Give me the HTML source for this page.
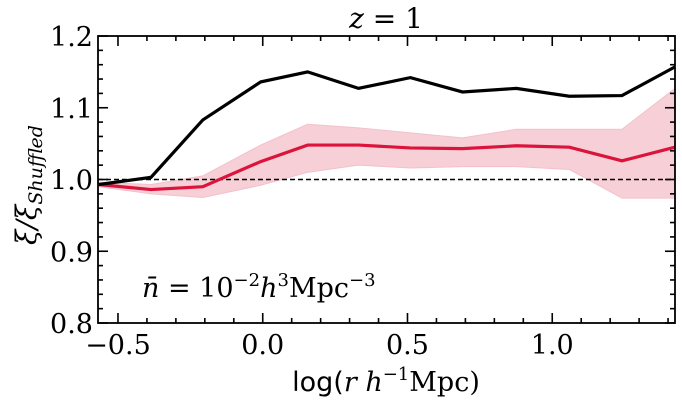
<!DOCTYPE html>
<html><head><meta charset="utf-8"><style>
body{margin:0;background:#fff;}
svg text{font-family:"DejaVu Serif","Liberation Serif",serif;fill:#000;}
</style></head><body>
<svg id="c" width="682" height="409" xmlns="http://www.w3.org/2000/svg">
<g id="plotg"></g>
<g id="tickg" fill="#000"></g>
<rect x="98" y="36" width="577" height="287" fill="none" stroke="#000" stroke-width="1.8"/>
<g id="labels"></g>
<text x="386" y="28" text-anchor="middle" font-size="28"><tspan font-style="italic">z</tspan> = 1</text>
<text x="142" y="297" font-size="27"><tspan font-style="italic">n̄</tspan> = 10<tspan font-size="18" dy="-11">−2</tspan><tspan dy="11" font-style="italic">h</tspan><tspan font-size="18" dy="-11">3</tspan><tspan dy="11">Mpc</tspan><tspan font-size="18" dy="-11">−3</tspan></text>
<text x="386" y="391" text-anchor="middle" font-size="27"><tspan font-family="DejaVu Sans, sans-serif">log(</tspan><tspan font-style="italic">r h</tspan><tspan font-size="18" dy="-11">−1</tspan><tspan dy="11">Mpc)</tspan></text>
<text transform="translate(36,185) rotate(-90)" text-anchor="middle" font-size="28" font-style="italic" font-family="DejaVu Sans, sans-serif">ξ/ξ<tspan font-size="19" dy="6">Shuffled</tspan></text>
</svg>
<script>
const logR=[-0.566,-0.386,-0.207,-0.007,0.155,0.331,0.510,0.690,0.876,1.059,1.241,1.424];
const blackVals=[0.993,1.003,1.083,1.136,1.150,1.127,1.142,1.122,1.127,1.116,1.117,1.157];
const redVals=[0.993,0.986,0.990,1.025,1.048,1.048,1.044,1.043,1.047,1.045,1.026,1.045];
const bandUpper=[0.996,0.993,1.005,1.048,1.077,1.072,1.065,1.058,1.070,1.070,1.070,1.127];
const bandLower=[0.990,0.980,0.975,0.992,1.010,1.020,1.016,1.018,1.018,1.014,0.974,0.974];
const xTicks=[-0.5,0.0,0.5,1.0];
const xTickLabels=["\u22120.5","0.0","0.5","1.0"];
const yTicks=[0.8,0.9,1.0,1.1,1.2];
const yTickLabels=["0.8","0.9","1.0","1.1","1.2"];

const L=98,R=675,T=36,B=323,xmin=-0.569,xmax=1.424,ymin=0.8,ymax=1.2;
const X=v=>L+(v-xmin)/(xmax-xmin)*(R-L);
const Y=v=>B-(v-ymin)/(ymax-ymin)*(B-T);
const NS='http://www.w3.org/2000/svg';
const pg=document.getElementById('plotg');
const lg=document.getElementById('labels');
const tg=document.getElementById('tickg');
function mk(tag,attrs,parent){const e=document.createElementNS(NS,tag);for(const k in attrs)e.setAttribute(k,attrs[k]);parent.appendChild(e);return e;}

let bp=logR.map((x,i)=>X(x)+','+Y(bandUpper[i])).join(' ')+' '+logR.map((x,i)=>X(x)+','+Y(bandLower[i])).reverse().join(' ');
const band=mk('polygon',{points:bp,fill:'#f4b6c2',opacity:'0.65',stroke:'#eea0b0','stroke-width':'1'},pg);


const ref=mk('line',{x1:L,x2:R,y1:Y(1),y2:Y(1),stroke:'#000','stroke-width':'1.4','stroke-dasharray':'5,3'},pg);


const red=mk('polyline',{points:logR.map((x,i)=>X(x)+','+Y(redVals[i])).join(' '),fill:'none',stroke:'#dc143c','stroke-width':'3.2'},pg);


const blk=mk('polyline',{points:logR.map((x,i)=>X(x)+','+Y(blackVals[i])).join(' '),fill:'none',stroke:'#000','stroke-width':'3.2'},pg);



for(let k=-5;k<=14;k++){
 const x=X(k/10);const l=(Math.abs(k)%5===0)?10:5;
 mk('rect',{x:x-0.8,y:B-l,width:1.6,height:l},tg);
 mk('rect',{x:x-0.8,y:T,width:1.6,height:l},tg);
}
for(let k=0;k<=20;k++){
 const y=Y(0.8+k*0.02);const l=(k%5===0)?10:5;
 mk('rect',{x:L,y:y-0.8,width:l,height:1.6},tg);
 mk('rect',{x:R-l,y:y-0.8,width:l,height:1.6},tg);
}

xTicks.forEach((v,i)=>{const t=mk('text',{x:X(v),y:B+31,'text-anchor':'middle','font-size':'27'},lg);t.textContent=xTickLabels[i];
 
 });
yTicks.forEach((v,i)=>{const t=mk('text',{x:L-5,y:Y(v)+10,'text-anchor':'end','font-size':'27'},lg);t.textContent=yTickLabels[i];
 
 });
</script>
</body></html>
